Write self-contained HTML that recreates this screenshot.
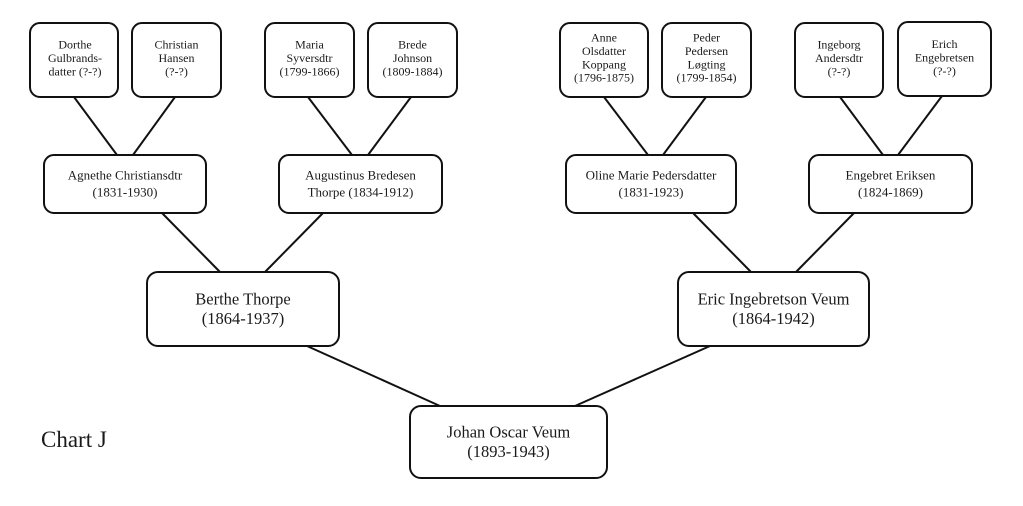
<!DOCTYPE html>
<html>
<head>
<meta charset="utf-8">
<style>
  html, body { margin: 0; padding: 0; background: #fff; }
  body { width: 1023px; height: 506px; overflow: hidden; }
  svg { display: block; }
  text { font-family: "Liberation Serif", "DejaVu Serif", serif; fill: #1a1a1a; text-anchor: middle; }
  .t { font-size: 12px; }
  .m { font-size: 13px; }
  .b { font-size: 16.5px; }
  rect { fill: #fff; stroke: #111; stroke-width: 2; }
  line { stroke: #111; stroke-width: 2; }
</style>
</head>
<body>
<svg width="1023" height="506" viewBox="0 0 1023 506" xmlns="http://www.w3.org/2000/svg">
  <!-- connectors -->
  <line x1="74" y1="97" x2="117" y2="155"/>
  <line x1="175" y1="97" x2="133" y2="155"/>
  <line x1="308" y1="97" x2="352" y2="155"/>
  <line x1="411" y1="97" x2="368" y2="155"/>
  <line x1="604" y1="97" x2="648" y2="155"/>
  <line x1="706" y1="97" x2="663" y2="155"/>
  <line x1="840" y1="97" x2="883" y2="155"/>
  <line x1="942" y1="96" x2="898" y2="155"/>

  <line x1="162" y1="213" x2="220" y2="272"/>
  <line x1="323" y1="213" x2="265" y2="272"/>
  <line x1="693" y1="213" x2="751" y2="272"/>
  <line x1="854" y1="213" x2="796" y2="272"/>

  <line x1="307" y1="346" x2="440" y2="406"/>
  <line x1="710" y1="346" x2="575" y2="406"/>

  <!-- top boxes -->
  <rect x="30" y="23" width="88" height="74" rx="10"/>
  <rect x="132" y="23" width="89" height="74" rx="10"/>
  <rect x="265" y="23" width="89" height="74" rx="10"/>
  <rect x="368" y="23" width="89" height="74" rx="10"/>
  <rect x="560" y="23" width="88" height="74" rx="10"/>
  <rect x="662" y="23" width="89" height="74" rx="10"/>
  <rect x="795" y="23" width="88" height="74" rx="10"/>
  <rect x="898" y="22" width="93" height="74" rx="10"/>

  <!-- middle boxes -->
  <rect x="44" y="155" width="162" height="58" rx="10"/>
  <rect x="279" y="155" width="163" height="58" rx="10"/>
  <rect x="566" y="155" width="170" height="58" rx="10"/>
  <rect x="809" y="155" width="163" height="58" rx="10"/>

  <!-- bottom boxes -->
  <rect x="147" y="272" width="192" height="74" rx="11"/>
  <rect x="678" y="272" width="191" height="74" rx="11"/>
  <rect x="410" y="406" width="197" height="72" rx="11"/>

  <!-- top texts -->
  <text class="t" x="75" y="48.3">Dorthe</text>
  <text class="t" x="75" y="61.8">Gulbrands-</text>
  <text class="t" x="75" y="75.3">datter (?-?)</text>

  <text class="t" x="176.5" y="48.3">Christian</text>
  <text class="t" x="176.5" y="61.8">Hansen</text>
  <text class="t" x="176.5" y="75.3">(?-?)</text>

  <text class="t" x="309.5" y="48.3">Maria</text>
  <text class="t" x="309.5" y="61.8">Syversdtr</text>
  <text class="t" x="309.5" y="75.3">(1799-1866)</text>

  <text class="t" x="412.5" y="48.3">Brede</text>
  <text class="t" x="412.5" y="61.8">Johnson</text>
  <text class="t" x="412.5" y="75.3">(1809-1884)</text>

  <text class="t" x="604" y="41.7">Anne</text>
  <text class="t" x="604" y="55">Olsdatter</text>
  <text class="t" x="604" y="68.3">Koppang</text>
  <text class="t" x="604" y="81.7">(1796-1875)</text>

  <text class="t" x="706.5" y="41.7">Peder</text>
  <text class="t" x="706.5" y="55">Pedersen</text>
  <text class="t" x="706.5" y="68.3">Løgting</text>
  <text class="t" x="706.5" y="81.7">(1799-1854)</text>

  <text class="t" x="839" y="48.3">Ingeborg</text>
  <text class="t" x="839" y="61.8">Andersdtr</text>
  <text class="t" x="839" y="75.3">(?-?)</text>

  <text class="t" x="944.5" y="47.8">Erich</text>
  <text class="t" x="944.5" y="61.3">Engebretsen</text>
  <text class="t" x="944.5" y="74.8">(?-?)</text>

  <!-- middle texts -->
  <text class="m" x="125" y="179.5">Agnethe Christiansdtr</text>
  <text class="m" x="125" y="196.5">(1831-1930)</text>

  <text class="m" x="360.5" y="179.5">Augustinus Bredesen</text>
  <text class="m" x="360.5" y="196.5">Thorpe (1834-1912)</text>

  <text class="m" x="651" y="179.5">Oline Marie Pedersdatter</text>
  <text class="m" x="651" y="196.5">(1831-1923)</text>

  <text class="m" x="890.5" y="179.5">Engebret Eriksen</text>
  <text class="m" x="890.5" y="196.5">(1824-1869)</text>

  <!-- bottom texts -->
  <text class="b" x="243" y="304.5">Berthe Thorpe</text>
  <text class="b" x="243" y="324">(1864-1937)</text>

  <text class="b" x="773.5" y="304.5">Eric Ingebretson Veum</text>
  <text class="b" x="773.5" y="324">(1864-1942)</text>

  <text class="b" x="508.5" y="437.5">Johan Oscar Veum</text>
  <text class="b" x="508.5" y="457">(1893-1943)</text>

  <!-- chart label -->
  <text x="41" y="447" style="font-size:23px; text-anchor:start;">Chart J</text>
</svg>
</body>
</html>
